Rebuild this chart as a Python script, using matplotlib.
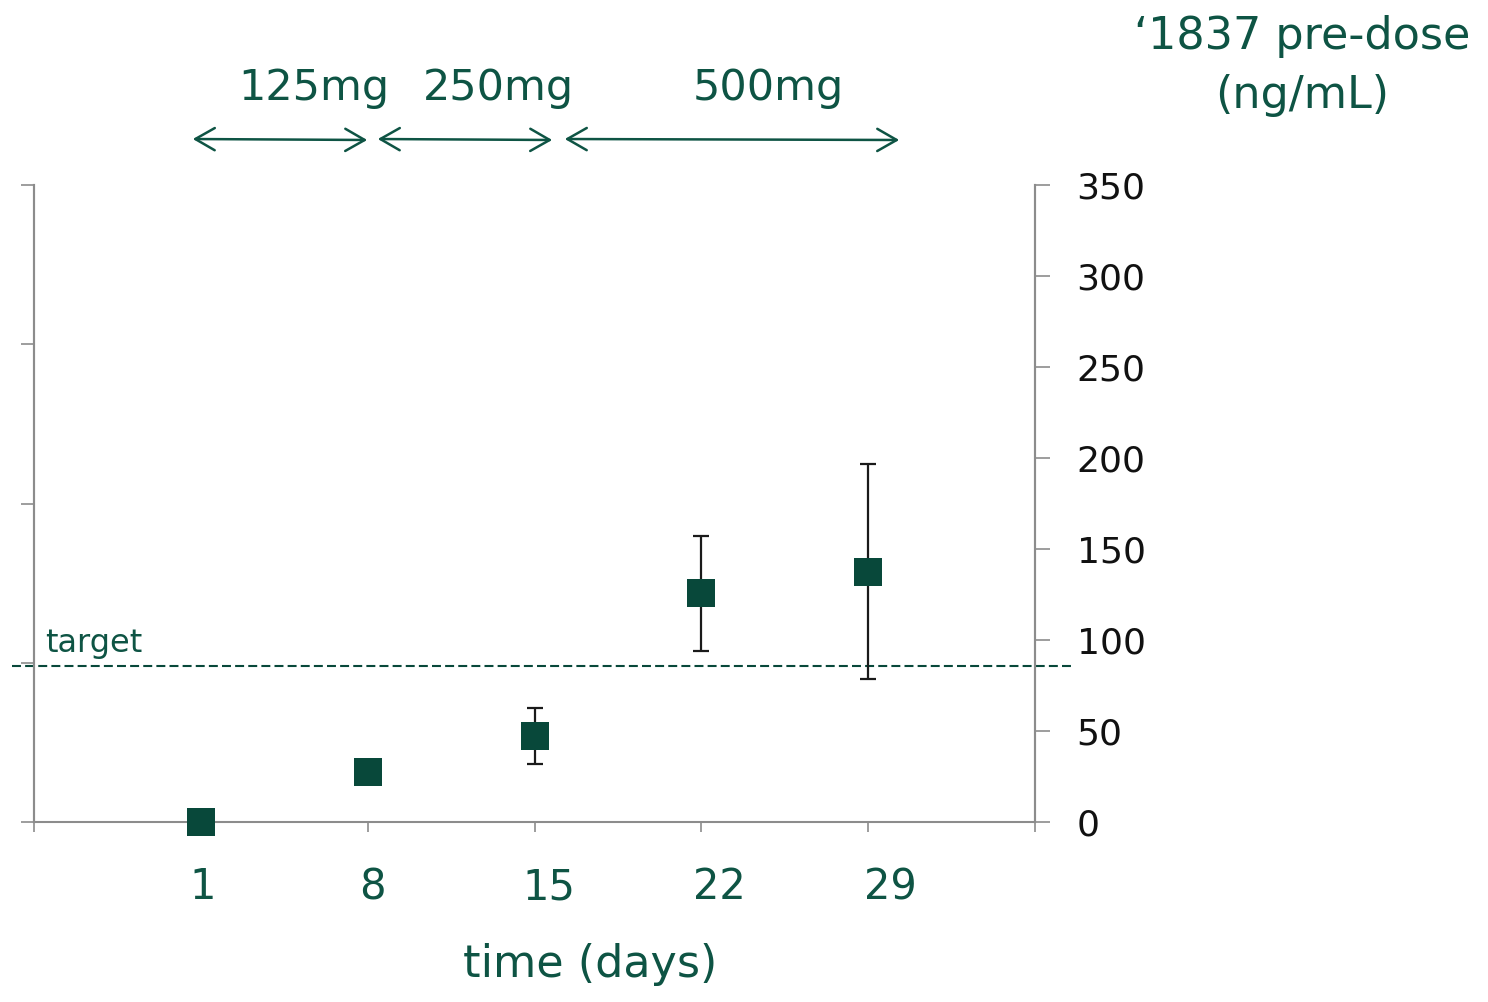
import matplotlib
matplotlib.use("Agg")
import matplotlib.pyplot as plt
import matplotlib.transforms as mtransforms
import numpy as np

# ── Data ───────────────────────────────────────────────────────────────────
days = [1, 8, 15, 22, 29]
conc = [0.0, 27.5, 47.4, 126.0, 137.2]          # '1837 pre-dose, ng/mL
err_low = [np.nan, np.nan, 31.9, 94.1, 78.4]    # lower end of error bar
err_high = [np.nan, np.nan, 62.4, 157.3, 196.9] # upper end of error bar
target = 85.7

dose_labels = ["125mg", "250mg", "500mg"]
right_ticks = [0, 50, 100, 150, 200, 250, 300, 350]

TEXT = "#0e5444"
MARK = "#08483a"
GRAY = "#8c8c8c"

plt.rcParams["font.family"] = ["DejaVu Sans"]

fig = plt.figure(figsize=(14.88, 10.02), dpi=100)
ax = fig.add_axes([34 / 1488, 1 - 822 / 1002, 1001 / 1488, 637 / 1002])
# unlabeled left scale (twinx flips ax's ticks to the left, so do it first)
axl = ax.twinx()

# ── Points + error bars ────────────────────────────────────────────────────
d = np.array(days, dtype=float)
c = np.array(conc)
lo = np.array(err_low)
hi = np.array(err_high)
has_err = ~np.isnan(lo)
ax.errorbar(d[has_err], c[has_err],
            yerr=[c[has_err] - lo[has_err], hi[has_err] - c[has_err]],
            fmt="none", ecolor="#1a1a1a", elinewidth=1.6, capsize=5.5,
            capthick=1.6, zorder=3, clip_on=False)
ax.plot(d, c, "s", color=MARK, markersize=20, markeredgewidth=0,
        zorder=4, clip_on=False)

# target line, runs a bit past both axes
blend = mtransforms.blended_transform_factory(ax.transAxes, ax.transData)
ax.plot([-0.022, 1.04], [target, target], transform=blend, color=MARK,
        linewidth=1.5, dashes=(4.3, 2.0), clip_on=False, zorder=2)
ax.text(0.011, target + 4, "target", transform=blend, color=TEXT,
        fontsize=23, ha="left", va="bottom")

# ── Axes ───────────────────────────────────────────────────────────────────
ax.set_xlim(-6, 36)
ax.set_ylim(0, 350)
ax.set_xticks(np.arange(-6, 37, 7))
ax.set_xticklabels([""] + [str(x) for x in days] + [""])
ax.tick_params(axis="x", direction="out", length=7, width=1.2, color=GRAY,
               labelsize=30, labelcolor=TEXT, pad=25)
# nudge the day labels to sit where they do in the reference
for lab, dx in zip(ax.get_xticklabels()[1:-1], [2, 5, 14, 18, 22]):
    lab.set_transform(lab.get_transform()
                      + mtransforms.ScaledTranslation(dx / 100, 0, fig.dpi_scale_trans))

ax.yaxis.tick_right()
ax.set_yticks(right_ticks)
ax.tick_params(axis="y", direction="out", length=11, width=1.2, color=GRAY,
               labelsize=26, labelcolor="#111111", pad=19)

axl.yaxis.tick_left()
axl.set_ylim(0, 4)
axl.set_yticks(range(5))
axl.set_yticklabels([])
axl.tick_params(axis="y", direction="out", length=9.5, width=1.2, color=GRAY)

for a in (ax, axl):
    a.spines["top"].set_visible(False)
    for s in ("left", "right", "bottom"):
        a.spines[s].set_color(GRAY)
        a.spines[s].set_linewidth(1.5)
axl.spines["bottom"].set_visible(False)

# ── Annotations above the plot ─────────────────────────────────────────────
dose_x = [314, 498, 768]
arrow_spans = [(190, 370), (375, 555), (562, 902)]
for lab, x, (x0, x1) in zip(dose_labels, dose_x, arrow_spans):
    fig.text(x / 1488, 1 - 88 / 1002, lab, color=TEXT, fontsize=31,
             ha="center", va="center")
    fig.add_artist(matplotlib.patches.FancyArrowPatch(
        (x0 / 1488, 1 - 139 / 1002), (x1 / 1488, 1 - 140 / 1002),
        transform=fig.transFigure, arrowstyle="<->,head_length=0.7,head_width=0.4",
        mutation_scale=20, color=TEXT, linewidth=1.8))

fig.text(1302 / 1488, 1 - 66 / 1002, "\u20181837 pre-dose\n(ng/mL)",
         color=TEXT, fontsize=32, ha="center", va="center", linespacing=1.45)
fig.text(590 / 1488, 1 - 965 / 1002, "time (days)", color=TEXT,
         fontsize=32, ha="center", va="center")

fig.savefig("out.png", dpi=100)
plt.close(fig)
